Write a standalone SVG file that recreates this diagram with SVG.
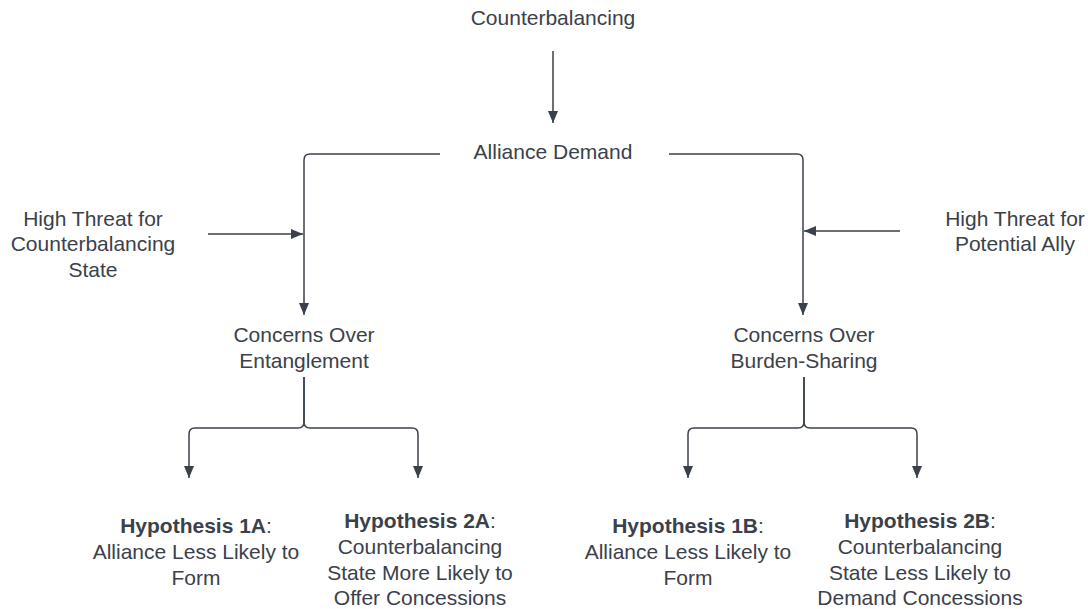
<svg xmlns="http://www.w3.org/2000/svg" width="1088" height="609" viewBox="0 0 1088 609">
<style>
text{font-family:"Liberation Sans",Arial,sans-serif;font-size:21px;fill:#3a414a;text-anchor:middle}
.b{font-weight:bold}
.c{fill:none;stroke:#3a414a;stroke-width:1.5}
</style>
<defs>
<marker id="ah" markerUnits="userSpaceOnUse" markerWidth="12" markerHeight="12" viewBox="0 0 12 12" refX="12" refY="6" orient="auto">
<path d="M0,1 L12,6 L0,11 z" fill="#3a414a"/>
</marker>
</defs>
<rect width="1088" height="609" fill="#ffffff"/>
<g id="connectors">
<path class="c" d="M553,51 V123" marker-end="url(#ah)"/>
<path class="c" d="M440,154 H310 Q304,154 304,160 V315" marker-end="url(#ah)"/>
<path class="c" d="M669,154 H797 Q803,154 803,160 V315" marker-end="url(#ah)"/>
<path class="c" d="M208,234 H303" marker-end="url(#ah)"/>
<path class="c" d="M900,231 H804" marker-end="url(#ah)"/>
<path class="c" d="M304,377 V422 Q304,428 298,428 H195 Q189,428 189,434 V478" marker-end="url(#ah)"/>
<path class="c" d="M304,377 V422 Q304,428 310,428 H412 Q418,428 418,434 V478" marker-end="url(#ah)"/>
<path class="c" d="M804,377 V422 Q804,428 798,428 H694 Q688,428 688,434 V478" marker-end="url(#ah)"/>
<path class="c" d="M804,377 V422 Q804,428 810,428 H911 Q917,428 917,434 V478" marker-end="url(#ah)"/>
</g>
<g id="n-counterbalancing"><text x="553" y="25">Counterbalancing</text></g>
<g id="n-alliance-demand"><text x="553" y="159">Alliance Demand</text></g>
<g id="n-threat-left"><text x="93" y="226">High Threat for</text><text x="93" y="251">Counterbalancing</text><text x="93" y="277">State</text></g>
<g id="n-threat-right"><text x="1015" y="226">High Threat for</text><text x="1015" y="251">Potential Ally</text></g>
<g id="n-entanglement"><text x="304" y="342">Concerns Over</text><text x="304" y="368">Entanglement</text></g>
<g id="n-burden"><text x="804" y="342">Concerns Over</text><text x="804" y="368">Burden-Sharing</text></g>
<g id="n-h1a"><text x="196" y="533"><tspan class="b">Hypothesis 1A</tspan>:</text><text x="196" y="559">Alliance Less Likely to</text><text x="196" y="585">Form</text></g>
<g id="n-h2a"><text x="420" y="528"><tspan class="b">Hypothesis 2A</tspan>:</text><text x="420" y="554">Counterbalancing</text><text x="420" y="580">State More Likely to</text><text x="420" y="605">Offer Concessions</text></g>
<g id="n-h1b"><text x="688" y="533"><tspan class="b">Hypothesis 1B</tspan>:</text><text x="688" y="559">Alliance Less Likely to</text><text x="688" y="585">Form</text></g>
<g id="n-h2b"><text x="920" y="528"><tspan class="b">Hypothesis 2B</tspan>:</text><text x="920" y="554">Counterbalancing</text><text x="920" y="580">State Less Likely to</text><text x="920" y="605">Demand Concessions</text></g>
</svg>
